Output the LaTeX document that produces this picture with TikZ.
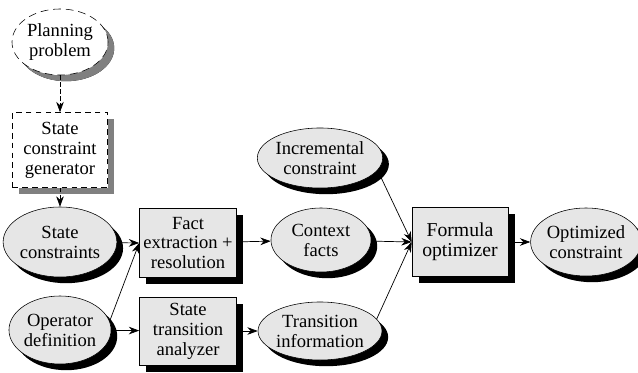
\documentclass[tikz,border=0pt]{standalone}
\usepackage{fontspec}
\setmainfont{Liberation Serif}
\usetikzlibrary{shapes.geometric,shadows,arrows.meta}

\begin{document}
\begin{tikzpicture}[x=0.025cm, y=-0.025cm,
    font=\fontsize{13.2}{14.2}\selectfont,
    data/.style={ellipse, draw=borderColour, fill=fillColour, inner sep=0pt, align=center,
        drop shadow={shadow xshift=4.4pt, shadow yshift=-4.4pt, opacity=1, fill=borderColour}},
    proc/.style={rectangle, draw=borderColour, fill=fillColour, inner sep=0pt, align=center,
        drop shadow={shadow xshift=4.8pt, shadow yshift=-4.8pt, opacity=1, fill=borderColour}},
    extdata/.style={data, fill=white, dashed, dash pattern=on 5.5pt off 3.5pt,
        drop shadow={shadow xshift=4.4pt, shadow yshift=-4.4pt, opacity=1, fill=shadeColour}},
    extproc/.style={proc, fill=white, dashed, dash pattern=on 4pt off 3pt,
        drop shadow={shadow xshift=4.8pt, shadow yshift=-4.8pt, opacity=1, fill=shadeColour}},
    flow/.style={-{Stealth[length=2.6mm,width=1.9mm]}, line width=0.5pt},
    dflow/.style={flow, dashed, dash pattern=on 3pt off 2pt}]
    % Define colours
    \definecolor{borderColour}{HTML}{000000}
    \definecolor{fillColour}{HTML}{E6E6E6}
    \definecolor{shadeColour}{HTML}{808080}

    % Fix the page size
    \useasboundingbox (0,0) rectangle (638,373);

    % Draw the input side
    \node[extdata, minimum width=2.4cm, minimum height=1.65cm] (plan) at (60,42) {Planning\\problem};
    \node[extproc, minimum width=2.375cm, minimum height=1.875cm] (gen) at (60,150) {State\\constraint\\generator};
    \node[data, minimum width=2.4cm, minimum height=1.75cm] (sc) at (60,242) {State\\constraints};
    \node[data, minimum width=2.4cm, minimum height=1.7cm] (op) at (60,330) {Operator\\definition};

    % Draw the analysis steps
    \node[proc, minimum width=2.425cm, minimum height=1.725cm] (fact) at (188,243) {Fact\\extraction +\\resolution};
    \node[proc, minimum width=2.425cm, minimum height=1.7cm] (sta) at (188,331) {State\\transition\\analyzer};

    % Draw the intermediate results
    \node[data, minimum width=2.5cm, minimum height=1.5cm] (inc) at (320,158) {Incremental\\constraint};
    \node[data, minimum width=2.5cm, minimum height=1.6cm] (ctx) at (321,240) {Context\\facts};
    \node[data, minimum width=2.5cm, minimum height=1.45cm] (tri) at (320,331) {Transition\\information};

    % Draw the optimizer and its output
    \node[proc, minimum width=2.4cm, minimum height=1.725cm, font=\fontsize{14}{14.6}\selectfont] (fo) at (460,242) {Formula\\optimizer};
    \node[data, minimum width=2.25cm, minimum height=1.7cm] (opt) at (586,242) {Optimized\\constraint};

    % Draw the connectors
    \draw[dflow] (plan) -- (gen);
    \draw[dflow] (gen) -- (sc);
    \draw[flow] (sc) -- (fact.west);
    \draw[flow] (op.10) -- (fact.west);
    \draw[flow] (op) -- (sta);
    \draw[flow] (fact) -- (ctx);
    \draw[flow] (sta) -- (tri);
    \draw[flow] (inc.-12) -- (fo.west);
    \draw[flow] (ctx) -- (fo.west);
    \draw[flow] (tri.12) -- (fo.west);
    \draw[flow] (fo) -- (opt);

\end{tikzpicture}
\end{document}
